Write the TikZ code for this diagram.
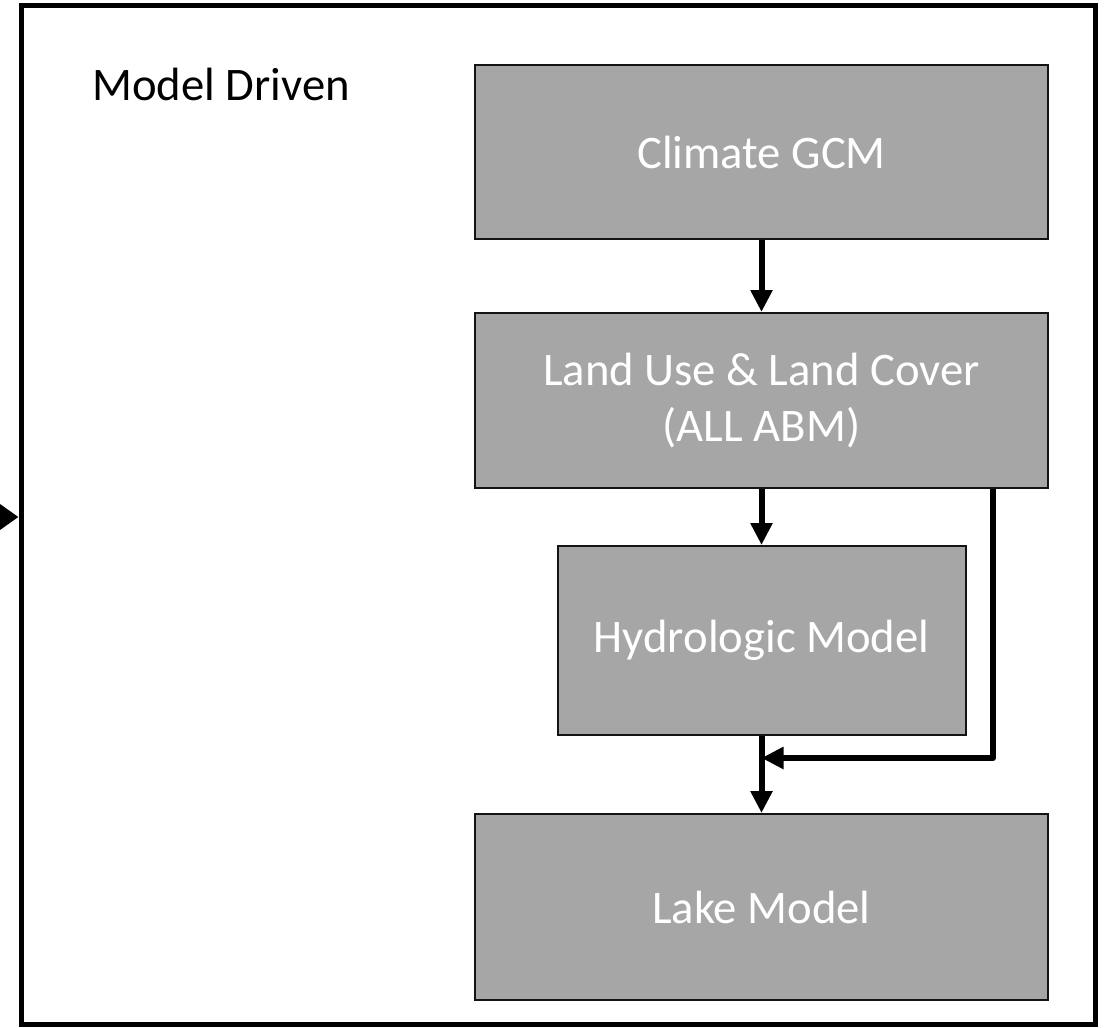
\documentclass[tikz,border=0pt]{standalone}
\usepackage{fontspec}
\setmainfont{Carlito}
\usetikzlibrary{arrows.meta}

\begin{document}
\begin{tikzpicture}[x=0.75pt,y=0.75pt,yscale=-1,xscale=1,
  block/.style={draw={rgb, 255:red, 20; green, 20; blue, 20 }, line width=1.5pt, fill={rgb, 255:red, 166; green, 166; blue, 166 }, text=white, inner sep=0pt, font=\fontsize{35pt}{42pt}\selectfont, align=center},
  flow/.style={line width=4.5pt, line join=round, -{Triangle[length=16.5pt,width=15.75pt]}}]
\useasboundingbox (0,0) rectangle (1109,1027);

%Shape: Rectangle [frame]
\node (frame) [draw, line width=3.75pt, inner sep=0pt, minimum width=805.5pt, minimum height=763.5pt] at (558,515) {};
% Text Node
\node (driven) [anchor=base west, inner sep=0pt, font=\fontsize{35pt}{42pt}\selectfont] at (92,101) {Model Driven};

%Shape: Rectangle [blocks]
\node (climate) [block, minimum width=429.75pt, minimum height=130.5pt] at (761.5,152) {Climate GCM};
\node (land) [block, minimum width=429.75pt, minimum height=131.25pt] at (761.5,400.5) {Land Use \& Land Cover\\(ALL ABM)};
\node (hydro) [block, minimum width=306pt, minimum height=141.75pt] at (761.5,640.5) {Hydrologic Model};
\node (lake) [block, minimum width=429.75pt, minimum height=139.5pt] at (761.5,907) {Lake Model};

\coordinate (feed) at (-60,517);
\coordinate (bend) at (993,758);
\coordinate (join) at (761.5,758);

%Straight Lines
\draw [flow] (climate) -- (land);
\draw [flow] (land) -- (hydro);
\draw [flow] (hydro) -- (lake);
\draw [flow] (land.south -| bend) -- (bend) -- (join);
\draw [line width=4.5pt, -{Triangle[length=15pt,width=20pt]}] (feed) -- (frame.west |- feed);

\end{tikzpicture}
\end{document}
